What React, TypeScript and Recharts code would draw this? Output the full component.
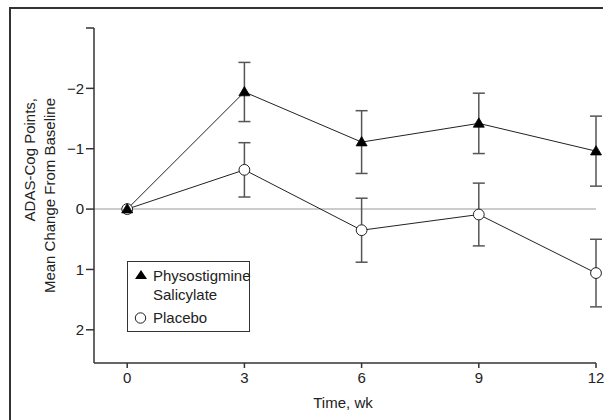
import React, { useEffect } from 'react';
import { LineChart, Line, XAxis, YAxis, ErrorBar, ReferenceLine, Label } from 'recharts';

const WEEKS = [0, 3, 6, 9, 12];
const PHYSO = [0, -1.94, -1.11, -1.42, -0.96];
const PHYSO_ERR = [undefined, 0.49, 0.52, 0.5, 0.58];
const PLACEBO = [0, -0.65, 0.35, 0.09, 1.06];
const PLACEBO_ERR = [undefined, 0.45, 0.53, 0.52, 0.56];
const X_TICKS = [0, 3, 6, 9, 12];
const Y_TICKS = [-3, -2, -1, 0, 1, 2];

const FONT = "'Liberation Sans', Arial, sans-serif";
const FS = 15;
const INK = '#222';

const data = WEEKS.map((t, i) => ({
  t,
  physo: PHYSO[i],
  physoErr: PHYSO_ERR[i],
  placebo: PLACEBO[i],
  placeboErr: PLACEBO_ERR[i],
}));

const fmtY = (v: number) => (v === -3 ? '' : v < 0 ? `\u2212${Math.abs(v)}` : `${v}`);

function TriangleDot(props: any) {
  const { cx, cy, index } = props;
  if (cx == null || cy == null) return null;
  const pts = `${cx},${cy - 5.5} ${cx - 5.5},${cy + 3.8} ${cx + 5.5},${cy + 3.8}`;
  return <polygon key={`tri-${index}`} points={pts} fill="#000" stroke="#000" strokeWidth={0.8} />;
}

function CircleDot(props: any) {
  const { cx, cy, index } = props;
  if (cx == null || cy == null) return null;
  return <circle key={`circ-${index}`} cx={cx} cy={cy} r={5.4} fill="#fff" stroke={INK} strokeWidth={1} />;
}

function YTitle() {
  // two lines, top-aligned, reading bottom to top
  const y = 90;
  return (
    <g fontFamily={FONT} fontSize={FS} fill={INK}>
      <text x={21} y={y} transform={`rotate(-90, 21, ${y})`} textAnchor="end" dominantBaseline="central">
        ADAS-Cog Points,
      </text>
      <text x={41} y={y} transform={`rotate(-90, 41, ${y})`} textAnchor="end" dominantBaseline="central">
        Mean Change From Baseline
      </text>
    </g>
  );
}

export default function App() {
  useEffect(() => {
    document.documentElement.style.overflow = 'hidden';
    document.body.style.overflow = 'hidden';
  }, []);

  return (
    <div
      style={{
        position: 'fixed',
        left: 0,
        top: 0,
        width: 611,
        height: 420,
        overflow: 'hidden',
        background: '#fff',
      }}
    >
      <style>{'svg, .recharts-wrapper, .recharts-surface { outline: none !important; border: none !important; }'}</style>
      <div
        style={{
          position: 'absolute',
          left: 9,
          top: 7,
          width: 592,
          height: 500,
          borderTop: '2px solid #333',
          borderLeft: '2px solid #333',
        }}
      />
      <div style={{ position: 'absolute', left: 8, top: 8 }}>
        <LineChart
          width={603}
          height={412}
          data={data}
          margin={{ top: 20, right: 15, bottom: 27, left: 56 }}
          accessibilityLayer={false}
          style={{ fontFamily: FONT }}
        >
          <XAxis
            dataKey="t"
            type="number"
            domain={[-0.85, 12]}
            ticks={X_TICKS}
            height={30}
            stroke="#333"
            strokeWidth={1.5}
            tickSize={5}
            tickMargin={4}
            tick={{ fill: INK, fontSize: FS, fontFamily: FONT }}
          >
            <Label
              content={() => (
                <text x={335} y={394} textAnchor="middle" dominantBaseline="central" fontFamily={FONT} fontSize={FS} fill={INK}>
                  Time, wk
                </text>
              )}
            />
          </XAxis>
          <YAxis
            type="number"
            reversed
            domain={[-3, 2.55]}
            ticks={Y_TICKS}
            width={30}
            stroke="#333"
            strokeWidth={1.5}
            tickSize={8}
            tickMargin={2}
            tickFormatter={fmtY}
            tick={{ fill: INK, fontSize: FS, fontFamily: FONT }}
          >
            <Label content={YTitle} />
          </YAxis>
          <ReferenceLine y={0} stroke="#bbb" strokeWidth={1.5} />
          <Line
            dataKey="placebo"
            type="linear"
            stroke={INK}
            strokeWidth={1}
            dot={CircleDot}
            isAnimationActive={false}
          >
            <ErrorBar dataKey="placeboErr" direction="y" width={6} stroke="#555" strokeWidth={1.5} />
          </Line>
          <Line
            dataKey="physo"
            type="linear"
            stroke={INK}
            strokeWidth={1}
            dot={TriangleDot}
            isAnimationActive={false}
          >
            <ErrorBar dataKey="physoErr" direction="y" width={6} stroke="#555" strokeWidth={1.5} />
          </Line>
        </LineChart>
      </div>
      {/* keep the right margin clean */}
      <div style={{ position: 'absolute', left: 606, top: 0, width: 5, height: 420, background: '#fff' }} />
      <div
        style={{
          position: 'absolute',
          left: 127,
          top: 261,
          width: 121,
          height: 65,
          border: '1.5px solid #333',
          background: '#fff',
          fontFamily: FONT,
          fontSize: FS,
          color: INK,
          lineHeight: '19px',
          padding: '4px 0 0 0',
        }}
      >
        <div style={{ display: 'flex', alignItems: 'flex-start' }}>
          <svg width={25} height={19} style={{ flex: 'none' }}>
            <polygon points="13,4 7,13 19,13" fill="#000" />
          </svg>
          <div>
            Physostigmine
            <br />
            Salicylate
          </div>
        </div>
        <div style={{ display: 'flex', alignItems: 'flex-start', marginTop: 4 }}>
          <svg width={25} height={19} style={{ flex: 'none' }}>
            <circle cx={12.5} cy={10} r={5.2} fill="#fff" stroke={INK} strokeWidth={1} />
          </svg>
          <div>Placebo</div>
        </div>
      </div>
    </div>
  );
}
